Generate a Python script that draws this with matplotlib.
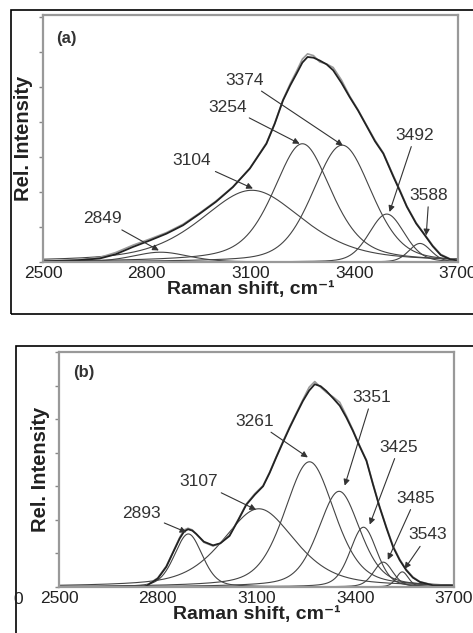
import numpy as np
import matplotlib
matplotlib.use("Agg")
import matplotlib.pyplot as plt
from matplotlib.patches import Rectangle

plt.rcParams['font.family'] = ['Liberation Sans', 'DejaVu Sans']

# panel (a): fitted bands (centre, height, half width, lorentz fraction)
a_centres = [2840, 3104, 3250, 3365, 3494, 3590]
a_heights = [0.28, 2.05, 3.38, 3.34, 1.37, 0.53]
a_hwhm = [95, 175, 100, 100, 60, 38]
a_eta = [0.3, 0.5, 0.5, 0.3, 0.2, 0.2]
a_labels = ['2849', '3104', '3254', '3374', '3492', '3588']
a_text_xy = [(2671, 1.23), (2931, 2.89), (3035, 4.43), (3084, 5.20), (3576, 3.63), (3616, 1.91)]
a_arrow_xy = [(2835, 0.33), (3107, 2.10), (3242, 3.38), (3367, 3.33), (3502, 1.43), (3608, 0.76)]
a_env_x = [2500, 2600, 2664, 2710, 2760, 2810, 2857, 2905, 2953, 3000, 3049, 3098, 3146,
           3170, 3194, 3215, 3233, 3250, 3265, 3282, 3300, 3320, 3339, 3363, 3387, 3411,
           3435, 3460, 3484, 3513, 3531, 3552, 3579, 3600, 3627, 3650, 3677, 3700]
a_env_y = [0.02, 0.05, 0.10, 0.22, 0.43, 0.62, 0.81, 1.05, 1.38, 1.72, 2.14, 2.67, 3.38,
           3.95, 4.62, 5.05, 5.38, 5.70, 5.86, 5.84, 5.76, 5.65, 5.48, 5.12, 4.71, 4.33,
           3.90, 3.45, 3.10, 2.44, 2.05, 1.58, 1.10, 0.82, 0.45, 0.20, 0.08, 0.04]
a_meas_y = [0.02, 0.06, 0.13, 0.27, 0.48, 0.66, 0.84, 1.08, 1.40, 1.74, 2.15, 2.68, 3.40,
            3.97, 4.64, 5.10, 5.45, 5.80, 5.95, 5.90, 5.72, 5.66, 5.56, 5.20, 4.74, 4.35,
            3.92, 3.48, 3.12, 2.47, 2.08, 1.60, 1.12, 0.84, 0.47, 0.22, 0.09, 0.05]

# panel (b)
b_centres = [2893, 3107, 3261, 3351, 3425, 3485, 3543]
b_heights = [1.58, 2.33, 3.73, 2.85, 1.78, 0.74, 0.45]
b_hwhm = [50, 130, 90, 75, 48, 35, 22]
b_eta = [0.3, 0.5, 0.4, 0.4, 0.3, 0.3, 0.3]
b_labels = ['2893', '3107', '3261', '3351', '3425', '3485', '3543']
b_text_xy = [(2749, 2.20), (2925, 3.13), (3095, 4.94), (3451, 5.65), (3533, 4.17), (3584, 2.65), (3621, 1.55)]
b_arrow_xy = [(2887, 1.63), (3099, 2.30), (3256, 3.86), (3368, 3.02), (3444, 1.86), (3499, 0.81), (3550, 0.54)]
b_env_x = [2750, 2765, 2800, 2826, 2850, 2867, 2880, 2892, 2905, 2917, 2940, 2968, 2990,
           3018, 3045, 3069, 3095, 3120, 3140, 3160, 3180, 3201, 3221, 3241, 3260, 3277,
           3295, 3312, 3333, 3353, 3373, 3393, 3413, 3434, 3454, 3474, 3495, 3515, 3535,
           3555, 3575, 3596, 3636, 3697]
b_env_y = [0.00, 0.03, 0.25, 0.60, 1.10, 1.45, 1.65, 1.72, 1.68, 1.58, 1.35, 1.24, 1.30,
           1.52, 2.00, 2.45, 2.75, 3.00, 3.40, 3.86, 4.30, 4.75, 5.15, 5.54, 5.85, 6.04,
           5.98, 5.84, 5.62, 5.40, 5.05, 4.65, 4.20, 3.76, 3.05, 2.38, 1.75, 1.19, 0.80,
           0.50, 0.28, 0.15, 0.05, 0.03]
b_meas_y = [0.00, 0.04, 0.27, 0.62, 1.12, 1.48, 1.70, 1.75, 1.70, 1.58, 1.33, 1.22, 1.30,
            1.54, 2.02, 2.47, 2.78, 3.02, 3.42, 3.88, 4.33, 4.78, 5.18, 5.58, 5.95, 6.12,
            5.95, 5.80, 5.66, 5.50, 5.10, 4.68, 4.22, 3.78, 3.08, 2.40, 1.78, 1.22, 0.83,
            0.52, 0.30, 0.16, 0.06, 0.03]

xticks = [2500, 2800, 3100, 3400, 3700]
x = np.linspace(2500, 3700, 1201)


def band(c, h, w, eta):
    d = (x - c) / w
    return h * (eta / (1 + d ** 2) + (1 - eta) * np.exp(-np.log(2) * d ** 2))


def panel(ax, tag, tag_xy, centres, heights, hwhm, eta, labels, text_xy, arrow_xy,
          ex, ey, my, ylab_x):
    for c, h, w, e in zip(centres, heights, hwhm, eta):
        ax.plot(x, band(c, h, w, e), color='#444444', lw=0.8)
    ax.plot(ex, my, color='#9a9a9a', lw=1.2)
    ax.plot(ex, ey, color='#222222', lw=1.3)
    for lab, txy, axy in zip(labels, text_xy, arrow_xy):
        ax.annotate(lab, xy=axy, xytext=txy, ha='center', va='center',
                    fontsize=12.5, color='#333333',
                    arrowprops=dict(arrowstyle='-|>', color='#333333', lw=0.8,
                                    mutation_scale=9, shrinkA=1, shrinkB=0))
    ax.text(tag_xy[0], tag_xy[1], tag, fontsize=12, fontweight='bold', color='#333333',
            ha='center', va='center')
    ax.set_xlim(2500, 3700)
    ax.set_xticks(xticks)
    ax.set_yticks(range(8))
    ax.set_yticklabels([])
    ax.tick_params(axis='x', length=0, labelsize=12.5, labelcolor='#222222', pad=3)
    ax.tick_params(axis='y', length=3, color='#888888', width=1)
    for sp in ax.spines.values():
        sp.set_color('#999999')
        sp.set_linewidth(1.6)
    ax.set_xlabel('Raman shift, cm\u207b\u00b9', fontsize=14, fontweight='bold',
                  color='#222222', labelpad=0)
    ax.set_ylabel('Rel. Intensity', fontsize=14.5, fontweight='bold', color='#222222')
    ax.yaxis.set_label_coords(ylab_x, 0.5)


fig = plt.figure(figsize=(4.73, 6.33), dpi=100)

axa = fig.add_axes([0.0909, 0.5861, 0.8774, 0.3902])
panel(axa, '(a)', (2567, 6.4), a_centres, a_heights, a_hwhm, a_eta, a_labels,
      a_text_xy, a_arrow_xy, a_env_x, a_env_y, a_meas_y, -0.024)
axa.set_ylim(0, 7.06)

axb = fig.add_axes([0.1247, 0.0727, 0.8351, 0.3712])
panel(axb, '(b)', (2576, 6.4), b_centres, b_heights, b_hwhm, b_eta, b_labels,
      b_text_xy, b_arrow_xy, b_env_x, b_env_y, b_meas_y, -0.0228)
axb.set_ylim(0, 7.0)

# stray clipped label at the left of panel (b)
fig.text(18 / 473, 1 - 600 / 633, '0', fontsize=12.5, color='#222222', ha='center', va='center')

# outer frames around each panel
fig.add_artist(Rectangle((11 / 473, 1 - 314 / 633), 1.2, 304 / 633, transform=fig.transFigure,
                         fill=False, ec='black', lw=1.2))
fig.add_artist(Rectangle((16 / 473, -0.2), 1.2, 0.2 + 1 - 346 / 633, transform=fig.transFigure,
                         fill=False, ec='black', lw=1.2))

fig.savefig('out.png', dpi=100)
